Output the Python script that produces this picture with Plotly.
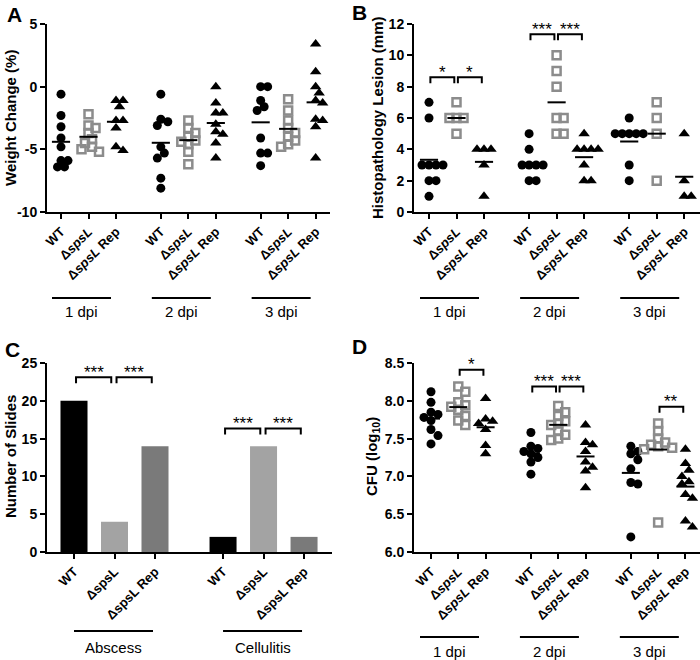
import numpy as np
import plotly.graph_objects as go

W, H = 700, 660
FONT = "Liberation Sans, Arial, sans-serif"

# ---------------- data ----------------
day_labels = ["1 dpi", "2 dpi", "3 dpi"]
site_labels = ["Abscess", "Cellulitis"]
ticks_italic = ["WT", "Δ<i>spsL</i>", "Δ<i>spsL</i> Rep"]
ticks_plain = ["WT", "ΔspsL", "ΔspsL Rep"]

# Panel A: weight change (%) per day (1, 2, 3 dpi)
weight_wt = [
    [-0.6, -2.3, -3.2, -4.1, -4.8, -5.9, -5.9, -6.4, -6.4],
    [-0.6, -2.6, -2.8, -3.1, -4.8, -5.3, -5.7, -7.3, -8.1],
    [0.0, 0.0, -1.1, -1.6, -1.9, -4.1, -5.3, -5.3, -6.3],
]
weight_del = [
    [-2.2, -3.1, -3.3, -3.7, -4.2, -4.5, -4.8, -5.0, -5.2],
    [-2.7, -3.3, -3.7, -4.0, -4.3, -4.4, -4.6, -5.2, -6.2],
    [-1.0, -1.9, -2.7, -3.3, -3.7, -4.0, -4.3, -4.6, -4.8],
]
weight_rep = [
    [-1.1, -1.1, -1.6, -2.7, -2.7, -3.3, -4.8, -5.1],
    [0.0, -1.3, -2.1, -2.1, -3.0, -3.6, -3.8, -4.5, -5.7],
    [3.4, 1.2, 0.0, -0.5, -1.1, -1.3, -2.6, -2.7, -3.2, -5.7],
]

# Panel B: histopathology lesion (mm)
lesion_wt = [[7, 6, 3, 3, 3, 3, 2, 2, 1], [5, 4, 3, 3, 3, 3, 2, 2], [6, 5, 5, 5, 5, 5, 3, 2]]
lesion_del = [[7, 6, 6, 6, 5], [10, 9, 8, 6, 6, 5, 5], [7, 6, 5, 2]]
lesion_rep = [[4, 4, 4, 3, 1], [5, 4, 4, 4, 4, 3, 2, 2], [5, 2, 1, 1]]

# Panel C: number of slides (WT, ΔspsL, ΔspsL Rep)
slides_abscess = [20, 4, 14]
slides_cellulitis = [2, 14, 2]

# Panel D: CFU (log10)
cfu_wt = [
    [8.12, 7.98, 7.85, 7.82, 7.78, 7.74, 7.62, 7.54, 7.43],
    [7.58, 7.40, 7.37, 7.33, 7.30, 7.25, 7.19, 7.03],
    [7.40, 7.33, 7.30, 7.22, 7.10, 6.92, 6.90, 6.20],
]
cfu_del = [
    [8.19, 8.12, 7.98, 7.94, 7.92, 7.88, 7.80, 7.74, 7.68],
    [7.93, 7.85, 7.80, 7.73, 7.70, 7.68, 7.60, 7.55, 7.50, 7.48],
    [7.70, 7.60, 7.50, 7.45, 7.42, 7.40, 7.38, 7.36, 6.39],
]
cfu_rep = [
    [8.03, 7.76, 7.73, 7.70, 7.62, 7.41, 7.30],
    [7.68, 7.45, 7.42, 7.33, 7.19, 7.12, 7.07, 6.85],
    [7.36, 7.17, 7.08, 7.00, 6.93, 6.90, 6.76, 6.71, 6.41, 6.33],
]

# significance: (group, from strain, to strain, level, label)
sig_lesion = [(0, 0, 1, 8.6, "*"), (0, 1, 2, 8.6, "*"), (1, 0, 1, 11.35, "***"), (1, 1, 2, 11.35, "***")]
sig_slides = [(0, 0, 1, 23.1, "***"), (0, 1, 2, 23.1, "***"), (1, 0, 1, 16.35, "***"), (1, 1, 2, 16.35, "***")]
sig_cfu = [(0, 1, 2, 8.41, "*"), (1, 0, 1, 8.19, "***"), (1, 1, 2, 8.19, "***"), (2, 1, 2, 7.92, "**")]

# ---------------- layout helpers ----------------
def px_x(p):
    return p / W


def px_y(p):
    return 1 - p / H


# panel geometry (pixels)
panels = {
    "A": dict(ax="", x0=47, x1=330, y0=24, y1=212, first=61, ppx=27.5, gap=3.63,
              yr=[-10, 5], yt=[-10, -5, 0, 5], ytt=["-10", "-5", "0", "5"]),
    "B": dict(ax="2", x0=414, x1=700, y0=24, y1=212, first=429, ppx=27.5, gap=3.64,
              yr=[0, 12], yt=[0, 2, 4, 6, 8, 10, 12], ytt=["0", "2", "4", "6", "8", "10", "12"]),
    "C": dict(ax="3", x0=47, x1=332, y0=363, y1=552, first=74, ppx=40.5, gap=3.68,
              yr=[0, 25], yt=[0, 5, 10, 15, 20, 25], ytt=["0", "5", "10", "15", "20", "25"]),
    "D": dict(ax="4", x0=414, x1=700, y0=363, y1=552, first=431, ppx=27.3, gap=3.66,
              yr=[6, 8.5], yt=[6, 6.5, 7, 7.5, 8, 8.5], ytt=["6.0", "6.5", "7.0", "7.5", "8.0", "8.5"]),
}

fig = go.Figure()
layout = dict(width=W, height=H, margin=dict(l=0, r=0, t=0, b=0, pad=0),
              paper_bgcolor="white", plot_bgcolor="white", showlegend=False,
              font=dict(family=FONT, color="black"))
shapes = []
annotations = []


def pos(P, g, j):
    return g * P["gap"] + j


for name, P in panels.items():
    ppy = (P["y1"] - P["y0"]) / (P["yr"][1] - P["yr"][0])
    P["ppy"] = ppy
    xr = [(P["x0"] - P["first"]) / P["ppx"], (P["x1"] - P["first"]) / P["ppx"]]
    ngroups = 2 if name == "C" else 3
    tv = [pos(P, g, j) for g in range(ngroups) for j in range(3)]
    tt = (ticks_plain if name == "C" else ticks_italic) * ngroups
    layout["xaxis" + P["ax"]] = dict(
        domain=[px_x(P["x0"]), px_x(P["x1"])], range=xr, anchor="y" + P["ax"],
        showgrid=False, zeroline=False, showline=True, linewidth=2, linecolor="black",
        ticks="outside", ticklen=5, tickwidth=2, tickcolor="black", automargin=False,
        tickvals=tv, ticktext=tt, tickangle=-45,
        tickfont=dict(family=FONT, size=13, weight="bold", color="black"),
    )
    layout["yaxis" + P["ax"]] = dict(
        domain=[px_y(P["y1"]), px_y(P["y0"])], range=P["yr"], anchor="x" + P["ax"],
        showgrid=False, zeroline=False, showline=True, linewidth=2, linecolor="black",
        ticks="outside", ticklen=5, tickwidth=2, tickcolor="black", automargin=False,
        tickvals=P["yt"], ticktext=P["ytt"],
        tickfont=dict(family=FONT, size=14, weight="bold", color="black"),
    )


def swarm(vals, ppy, ppx, dmin=7.0, step=3.5):
    vals = np.asarray(vals, dtype=float)
    order = np.argsort(-vals, kind="stable")
    placed = []
    offs = np.zeros(len(vals))
    for i in order:
        y = vals[i] * ppy
        k = 0
        while True:
            cand = 0 if k == 0 else ((k + 1) // 2) * step * (1 if k % 2 else -1)
            if all((cand - px) ** 2 + (y - py) ** 2 >= dmin ** 2 for px, py in placed):
                break
            k += 1
        placed.append((cand, y))
        offs[i] = cand / ppx
    return offs


marker_styles = [
    dict(symbol="circle", size=9, color="black"),
    dict(symbol="square-open", size=8, color="#8c8c8c", line=dict(width=2.5, color="#8c8c8c")),
    dict(symbol="triangle-up", size=10, color="black"),
]


def dot_panel(name, series):
    P = panels[name]
    ax = P["ax"]
    mean_x, mean_y = [], []
    for j, data in enumerate(series):
        xs, ys = [], []
        for g, vals in enumerate(data):
            offs = swarm(vals, P["ppy"], P["ppx"])
            p = pos(P, g, j)
            xs += list(p + offs)
            ys += list(vals)
            m = float(np.mean(vals))
            mean_x += [p - 0.33, p + 0.33, None]
            mean_y += [m, m, None]
        fig.add_trace(go.Scatter(x=xs, y=ys, mode="markers", marker=marker_styles[j],
                                 xaxis="x" + ax, yaxis="y" + ax, hoverinfo="skip"))
    fig.add_trace(go.Scatter(x=mean_x, y=mean_y, mode="lines", line=dict(color="black", width=2),
                             xaxis="x" + ax, yaxis="y" + ax, hoverinfo="skip"))


dot_panel("A", [weight_wt, weight_del, weight_rep])
dot_panel("B", [lesion_wt, lesion_del, lesion_rep])
dot_panel("D", [cfu_wt, cfu_del, cfu_rep])

# Panel C bars
PC = panels["C"]
bar_colors = ["black", "#a3a3a3", "#7a7a7a"]
for j in range(3):
    fig.add_trace(go.Bar(
        x=[pos(PC, 0, j), pos(PC, 1, j)], y=[slides_abscess[j], slides_cellulitis[j]],
        width=0.667, marker=dict(color=bar_colors[j], line=dict(width=0)),
        xaxis="x3", yaxis="y3", hoverinfo="skip"))


# significance brackets
def brackets(name, sigs):
    P = panels[name]
    ax = P["ax"]
    drop = 6 / P["ppy"]
    bx, by = [], []
    for g, a, b, lvl, lab in sigs:
        x0 = pos(P, g, a) + 0.05
        x1 = pos(P, g, b) - 0.08
        bx += [x0, x0, x1, x1, None]
        by += [lvl - drop, lvl, lvl, lvl - drop, None]
        annotations.append(dict(x=(x0 + x1) / 2, y=lvl, xref="x" + ax, yref="y" + ax,
                                text=lab, showarrow=False, yanchor="middle", yshift=5,
                                font=dict(family=FONT, size=17, color="black")))
    fig.add_trace(go.Scatter(x=bx, y=by, mode="lines", line=dict(color="black", width=2),
                             xaxis="x" + ax, yaxis="y" + ax, hoverinfo="skip"))


brackets("B", sig_lesion)
brackets("C", sig_slides)
brackets("D", sig_cfu)

# group underlines and labels
group_lines = {"A": (298, 312, -9, 50, day_labels),
               "B": (298, 312, -9, 50, day_labels),
               "C": (631, 647, 0, 79, site_labels),
               "D": (637, 651, -11, 48, day_labels)}
for name, (ly, ty, a_px, b_px, labels) in group_lines.items():
    P = panels[name]
    for g, lab in enumerate(labels):
        x0 = pos(P, g, 0) + a_px / P["ppx"]
        x1 = pos(P, g, 0) + b_px / P["ppx"]
        shapes.append(dict(type="line", xref="x" + P["ax"], yref="paper",
                           x0=x0, x1=x1, y0=px_y(ly), y1=px_y(ly),
                           line=dict(color="black", width=2)))
        annotations.append(dict(x=(x0 + x1) / 2, y=px_y(ty), xref="x" + P["ax"], yref="paper",
                                text=lab, showarrow=False, yanchor="middle",
                                font=dict(family=FONT, size=15, color="black")))

# axis titles
ytitles = [("Weight Change (%)", 10, 118), ("Histopathology Lesion (mm)", 377, 118),
           ("Number of Slides", 10, 457), ("CFU (log<sub>10</sub>)", 372, 457)]
for txt, x, y in ytitles:
    annotations.append(dict(x=px_x(x), y=px_y(y), xref="paper", yref="paper", text=txt,
                            textangle=-90, showarrow=False, xanchor="center", yanchor="middle",
                            font=dict(family=FONT, size=15, weight="bold", color="black")))

# panel letters
for txt, x, y in [("A", 14, 14), ("B", 360, 13), ("C", 12, 349), ("D", 359, 346)]:
    annotations.append(dict(x=px_x(x), y=px_y(y), xref="paper", yref="paper", text=txt,
                            showarrow=False, xanchor="center", yanchor="middle",
                            font=dict(family=FONT, size=21, weight="bold", color="black")))

layout["shapes"] = shapes
layout["annotations"] = annotations
fig.update_layout(**layout)
fig.write_html("out.html", config={"displayModeBar": False},
               post_script="document.body.style.margin='0px';document.body.style.overflow='hidden';")
